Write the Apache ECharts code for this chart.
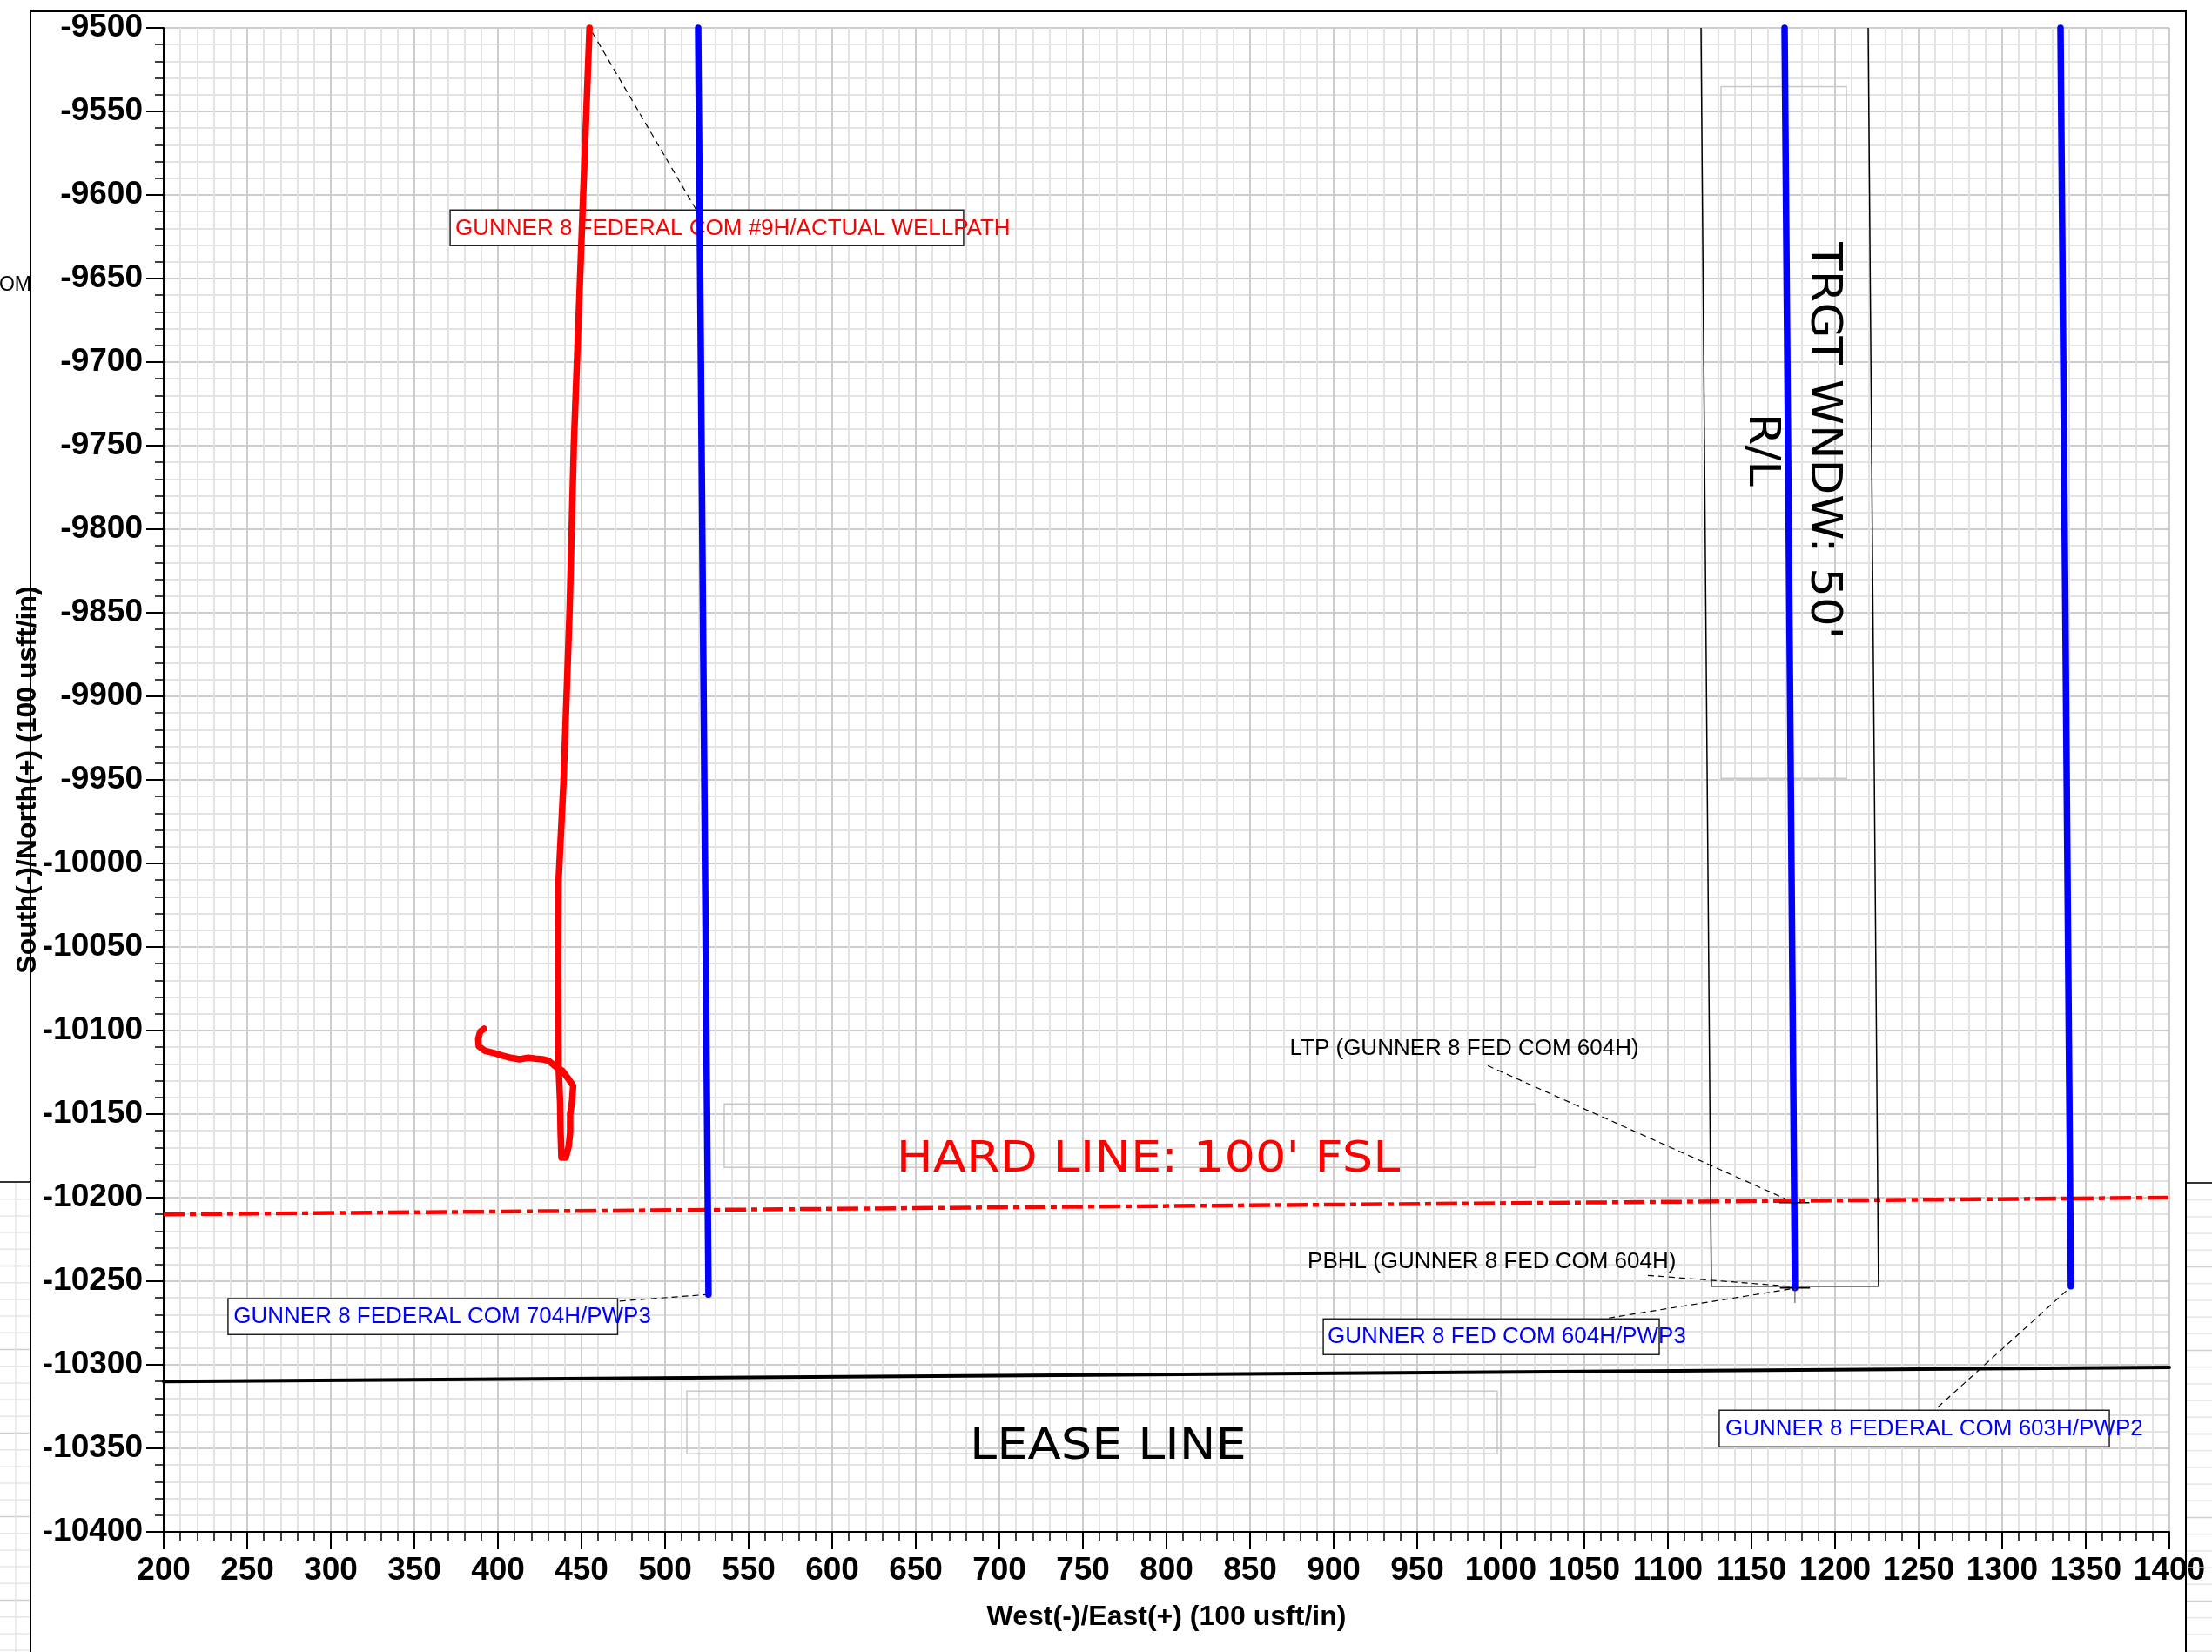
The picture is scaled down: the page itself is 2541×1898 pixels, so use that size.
<!DOCTYPE html>
<html>
<head>
<meta charset="utf-8">
<title>GUNNER 8 FEDERAL COM - Plan View</title>
<script src="https://cdn.jsdelivr.net/npm/echarts@6/dist/echarts.min.js"></script>
<style>
  html, body { margin: 0; padding: 0; background: #ffffff; }
  #chart { width: 2541px; height: 1898px; }
</style>
</head>
<body>
<div id="chart"></div>
<script>
// ---- Plan view extents (usft) ----
const eastMin = 200, eastMax = 1400;
const northMin = -10400, northMax = -9500;
const gridStep = 50;
const minorDivisions = 5;

// ---- GUNNER 8 FEDERAL COM #9H actual wellpath [E/W, N/S] ----
const actual9H = [
  [454.8, -9500], [450.7, -9608], [445.4, -9750], [442.9, -9848], [439.2, -9952],
  [436.3, -10010], [436.0, -10060], [436.3, -10122], [437.2, -10143], [437.5, -10161],
  [438.0, -10176], [440.6, -10176], [442.4, -10169], [443.2, -10161], [443.2, -10150],
  [444.4, -10142], [445.0, -10133], [441.5, -10128], [438.5, -10124], [434.5, -10121.5],
  [430.2, -10118], [426.7, -10117.2], [422.4, -10116.8], [418.1, -10116.3], [412.9, -10117.2],
  [407.7, -10116.3], [402.4, -10114.9], [397.2, -10113.3], [392.0, -10112], [388.5, -10109.4],
  [388.2, -10105], [389.4, -10100.7], [391.7, -10099]
];

// ---- Planned laterals ----
const plan704H = [[519.8, -9500], [526.0, -10258]];
const plan604H = [[1169.8, -9500], [1176.0, -10254]];
const plan603H = [[1334.9, -9500], [1341.1, -10253]];

// ---- Boundaries ----
const hardLine = [[200, -10210], [1400, -10200]];
const leaseLine = [[200, -10310], [1400, -10301.5]];
const targetWindow604H = [[1119.8, -9500], [1126.0, -10253], [1226.0, -10253], [1219.8, -9500]];

// ---- 604H landing / bottom-hole points ----
const ltp604H = [1175.6, -10203];
const pbhl604H = [1176.0, -10254];

// ---- Well callouts ----
const calloutTexts = [
  'GUNNER 8 FEDERAL COM #9H/ACTUAL WELLPATH',
  'GUNNER 8 FEDERAL COM 704H/PWP3',
  'GUNNER 8 FED COM 604H/PWP3',
  'GUNNER 8 FEDERAL COM 603H/PWP2'
];
const calloutBoxes = [
  [371.4, -9609.0, 678.6, -9630.4],
  [238.5, -10260.4, 471.6, -10281.9],
  [893.8, -10272.5, 1094.8, -10293.9],
  [1130.7, -10327.2, 1364.1, -10349.1]
];
const calloutAnchors = [[374.5, -9620.0], [241.8, -10271.3], [896.4, -10283.4], [1134.4, -10338.2]];
const calloutLeaders = [
  [[518.4, -9608.5], [456.4, -9502.6]],
  [[472.8, -10261.9], [526.0, -10257.9]],
  [[1064.6, -10272.0], [1176.0, -10254.2]],
  [[1261.5, -10325.4], [1341.1, -10253.3]]
];

// ---- Point notes ----
const noteTexts = ['LTP (GUNNER 8 FED COM 604H)', 'PBHL (GUNNER 8 FED COM 604H)'];
const noteAnchors = [[873.7, -10110.6], [884.4, -10238.7]];
const noteLeaders = [
  [[992.2, -10121.0], [1170.3, -10200.7]],
  [[1088.0, -10246.5], [1176.0, -10253.3]]
];

// ---- Boundary captions ----
const captionTexts = ["HARD LINE: 100' FSL", 'LEASE LINE', "TRGT WNDW: 50'", 'R/L'];
const captionCenters = [[789.1, -10178.0], [765.1, -10349.5], [1192.7, -9747.0], [1155.5, -9752.5]];
const captionFrames = [
  [535.4, -10143.9, 1020.8, -10181.9],
  [513.0, -10315.8, 997.9, -10353.3],
  [1131.8, -9535.1, 1206.8, -9949.1]
];

// ================= drawing =================
const sansFont = '"Liberation Sans", Arial, Helvetica, sans-serif';
const captionFont = '"DejaVu Sans", Verdana, sans-serif';
const RED = '#ff0000', BLUE = '#0000ff', BLACK = '#000000';

const calloutColors = [RED, BLUE, BLUE, BLUE];
const captionColors = [RED, BLACK, BLACK, BLACK];
const captionVertical = [false, false, true, true];

function rectFrom(api, b) {
  const p1 = api.coord([b[0], b[1]]);
  const p2 = api.coord([b[2], b[3]]);
  return {
    x: Math.min(p1[0], p2[0]), y: Math.min(p1[1], p2[1]),
    width: Math.abs(p2[0] - p1[0]), height: Math.abs(p2[1] - p1[1])
  };
}
function leaderFrom(api, seg) {
  const a = api.coord(seg[0]), b = api.coord(seg[1]);
  return {
    type: 'line',
    shape: { x1: a[0], y1: a[1], x2: b[0], y2: b[1] },
    style: { stroke: BLACK, lineWidth: 1.2, lineDash: [7, 5] }
  };
}
function textEl(p, text, color, font, align) {
  return {
    type: 'text', x: p[0], y: p[1],
    style: {
      text: text, fill: color, font: font,
      textAlign: align, align: align,
      textVerticalAlign: 'middle', verticalAlign: 'middle'
    }
  };
}

function wellLine(name, data, color, width, extra) {
  return Object.assign({
    name: name, type: 'line', data: data, showSymbol: false, symbol: 'none',
    clip: false, z: 3, silent: true,
    lineStyle: { color: color, width: width, cap: 'round', join: 'round' }
  }, extra || {});
}

// decoration around the drawing sheet
const sheetDecor = [];
sheetDecor.push({
  type: 'polyline', z: 10,
  shape: { points: [[35, 1898], [35, 13], [2511, 13], [2511, 1898]] },
  style: { stroke: BLACK, lineWidth: 2, fill: null }
});
sheetDecor.push({
  type: 'text', x: 36, y: 328, z: 10,
  style: { text: 'OM', fill: BLACK, font: '23px ' + sansFont, textAlign: 'right', align: 'right',
           textVerticalAlign: 'middle', verticalAlign: 'middle' }
});
[[0, 34, 1358], [2512, 2541, 1359]].forEach(function (m) {
  for (let k = 1; k < 29; k++) {
    const y = m[2] + 19.2 * k + 0.5;
    sheetDecor.push({
      type: 'line', z: 1,
      shape: { x1: m[0], y1: y, x2: m[1], y2: y },
      style: { stroke: (k % 5 === 0) ? '#d0d0d0' : '#e6e6e6', lineWidth: 1.5 }
    });
  }
  sheetDecor.push({
    type: 'line', z: 10,
    shape: { x1: m[0], y1: m[2], x2: m[1], y2: m[2] },
    style: { stroke: '#333333', lineWidth: 2 }
  });
});
sheetDecor.push({
  type: 'line', z: 1, shape: { x1: 18, y1: 1358, x2: 18, y2: 1898 },
  style: { stroke: '#e6e6e6', lineWidth: 1.5 }
});

function plainNumber(v) { return String(Math.round(v)); }

function axisCommon() {
  return {
    type: 'value',
    interval: gridStep,
    nameLocation: 'middle',
    nameMoveOverlap: false,
    nameTextStyle: { fontFamily: sansFont, fontWeight: 'bold', fontSize: 32, color: BLACK },
    axisLine: { show: true, onZero: false, lineStyle: { color: BLACK, width: 2 } },
    axisTick: { show: true, inside: false, length: 20, lineStyle: { color: BLACK, width: 2 } },
    minorTick: { show: true, splitNumber: minorDivisions, length: 10, lineStyle: { color: BLACK, width: 1.5 } },
    splitLine: { show: true, lineStyle: { color: '#cdcdcd', width: 2 } },
    minorSplitLine: { show: true, lineStyle: { color: '#e3e3e3', width: 2 } }
  };
}

const xAxis = Object.assign(axisCommon(), {
  min: eastMin, max: eastMax, position: 'bottom',
  name: 'West(-)/East(+) (100 usft/in)', nameGap: 82,
  axisLabel: { show: true, margin: 26, fontFamily: sansFont, fontWeight: 'bold', fontSize: 37,
               color: BLACK, showMinLabel: true, showMaxLabel: true, hideOverlap: false,
               formatter: plainNumber }
});
const yAxis = Object.assign(axisCommon(), {
  min: northMin, max: northMax, position: 'left',
  name: 'South(-)/North(+) (100 usft/in)', nameRotate: 90, nameGap: 140,
  axisLabel: { show: true, margin: 24, fontFamily: sansFont, fontWeight: 'bold', fontSize: 37,
               color: BLACK, showMinLabel: true, showMaxLabel: true, hideOverlap: false,
               formatter: plainNumber }
});

const option = {
  animation: false,
  backgroundColor: '#ffffff',
  textStyle: { fontFamily: sansFont },
  grid: { left: 188, top: 32, width: 2304, height: 1728, containLabel: false, outerBoundsMode: 'none' },
  xAxis: xAxis,
  yAxis: yAxis,
  graphic: { elements: sheetDecor },
  series: [
    // caption frames and captions
    {
      name: 'captions', type: 'custom', coordinateSystem: 'cartesian2d', z: 1, silent: true,
      data: captionCenters, encode: { x: 0, y: 1 },
      renderItem: function (params, api) {
        const i = params.dataIndex;
        const children = [];
        if (i < captionFrames.length) {
          children.push({ type: 'rect', shape: rectFrom(api, captionFrames[i]),
                          style: { fill: null, stroke: '#c8c8c8', lineWidth: 1.5 } });
        }
        const p = api.coord(captionCenters[i]);
        const t = textEl([0, 0], captionTexts[i], captionColors[i], '49px ' + captionFont, 'center');
        t.x = p[0]; t.y = p[1];
        t.style.x = 0; t.style.y = 0;
        if (captionVertical[i]) { t.rotation = -Math.PI / 2; t.scaleX = 1.08; }
        else { t.scaleX = 1.14; }
        children.push(t);
        return { type: 'group', children: children };
      }
    },
    // boxed well callouts
    {
      name: 'callouts', type: 'custom', coordinateSystem: 'cartesian2d', z: 2, silent: true,
      data: calloutAnchors, encode: { x: 0, y: 1 },
      renderItem: function (params, api) {
        const i = params.dataIndex;
        return { type: 'group', children: [
          { type: 'rect', shape: rectFrom(api, calloutBoxes[i]),
            style: { fill: '#ffffff', stroke: '#222222', lineWidth: 1.5 } },
          leaderFrom(api, calloutLeaders[i]),
          textEl(api.coord(calloutAnchors[i]), calloutTexts[i], calloutColors[i], '26px ' + sansFont, 'left')
        ] };
      }
    },
    // LTP / PBHL notes
    {
      name: 'notes', type: 'custom', coordinateSystem: 'cartesian2d', z: 2, silent: true,
      data: noteAnchors, encode: { x: 0, y: 1 },
      renderItem: function (params, api) {
        const i = params.dataIndex;
        return { type: 'group', children: [
          leaderFrom(api, noteLeaders[i]),
          textEl(api.coord(noteAnchors[i]), noteTexts[i], BLACK, '26px ' + sansFont, 'left')
        ] };
      }
    },
    // boundaries
    wellLine('HARD LINE', hardLine, RED, 4.5, { z: 2, lineStyle: { color: RED, width: 4.5, type: [24, 6, 7, 6] } }),
    wellLine('LEASE LINE', leaseLine, BLACK, 4, { z: 2 }),
    wellLine('TRGT WNDW', targetWindow604H, BLACK, 1.5, { z: 2, lineStyle: { color: BLACK, width: 1.5, join: 'miter' } }),
    // wells
    wellLine('GUNNER 8 FEDERAL COM #9H', actual9H, RED, 7.5),
    wellLine('GUNNER 8 FEDERAL COM 704H/PWP3', plan704H, BLUE, 7.5),
    wellLine('GUNNER 8 FED COM 604H/PWP3', plan604H, BLUE, 7.5),
    wellLine('GUNNER 8 FEDERAL COM 603H/PWP2', plan603H, BLUE, 7.5),
    // LTP / PBHL target marks
    {
      name: 'targets', type: 'custom', coordinateSystem: 'cartesian2d', z: 4, silent: true,
      data: [ltp604H, pbhl604H], encode: { x: 0, y: 1 },
      renderItem: function (params, api) {
        const pt = params.dataIndex === 0 ? ltp604H : pbhl604H;
        const c = api.coord(pt);
        const half = api.size([9, 0])[0];
        const kids = [{ type: 'line', shape: { x1: c[0] - half, y1: c[1], x2: c[0] + half, y2: c[1] },
                        style: { stroke: BLACK, lineWidth: 1.5 } }];
        if (params.dataIndex === 1) {
          const drop = api.size([0, 9])[1];
          kids.push({ type: 'line', shape: { x1: c[0], y1: c[1], x2: c[0], y2: c[1] + drop },
                      style: { stroke: '#444444', lineWidth: 1 } });
        }
        return { type: 'group', children: kids };
      }
    }
  ]
};

const chart = echarts.init(document.getElementById('chart'), null, { renderer: 'canvas' });
chart.setOption(option);
</script>
</body>
</html>
